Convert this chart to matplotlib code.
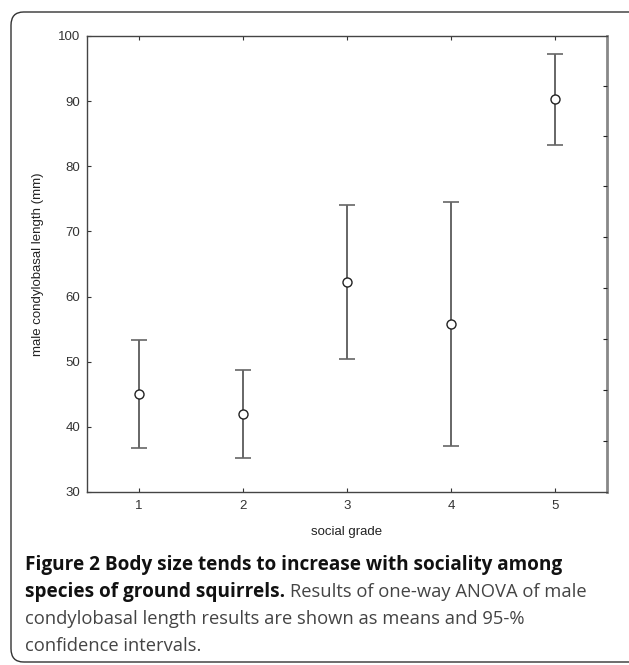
import numpy as np
import matplotlib
matplotlib.use("Agg")
import matplotlib.pyplot as plt
from matplotlib.patches import FancyBboxPatch

plt.rcParams['font.family'] = ['Liberation Sans', 'DejaVu Sans']

# data (means and 95% CI bounds)
grades = [1, 2, 3, 4, 5]
means = [45.0, 42.0, 62.2, 55.8, 90.3]
ci_low = [36.7, 35.2, 50.4, 37.1, 83.2]
ci_high = [53.4, 48.8, 74.0, 74.5, 97.3]
y_ticks = [30, 40, 50, 60, 70, 80, 90, 100]
right_ticks = [37.8, 45.7, 53.5, 61.3, 69.1, 76.9, 84.6, 92.4]

fig = plt.figure(figsize=(6.29, 6.65), dpi=100)
W, H = 629, 665

# rounded frame around figure + caption
frame = FancyBboxPatch((11 / W, 3 / H), 640 / W, 650 / H,
                       boxstyle="round,pad=0,rounding_size=0.02",
                       transform=fig.transFigure, fill=False,
                       edgecolor='#333333', linewidth=1.0)
fig.patches.append(frame)

ax = fig.add_axes([87 / W, 1 - 492 / H, 520 / W, 456 / H])

means = np.array(means)
yerr = [means - np.array(ci_low), np.array(ci_high) - means]
ax.errorbar(grades, means, yerr=yerr, fmt='none', ecolor='#666666',
            elinewidth=1.4, capsize=6, capthick=1.2, zorder=2)
ax.plot(grades, means, 'o', markersize=6.5, markerfacecolor='white',
        markeredgecolor='#222222', markeredgewidth=1.0, zorder=3)

ax.set_xlim(0.5, 5.5)
ax.set_ylim(30, 100)
ax.set_xticks(grades)
ax.set_yticks(y_ticks)
ax.tick_params(direction='in', length=3, width=0.8, labelsize=9.5,
               colors='#333333', top=True, right=False, pad=6)
ax.tick_params(axis='y', pad=5)
for s in ['left', 'bottom', 'top']:
    ax.spines[s].set_color('#444444')
    ax.spines[s].set_linewidth(1.0)
ax.spines['right'].set_color('#888888')
ax.spines['right'].set_linewidth(2.0)

ax2 = ax.twinx()
ax2.set_ylim(30, 100)
ax2.set_yticks(right_ticks)
ax2.set_yticklabels([])
ax2.tick_params(direction='in', length=3, width=0.8, colors='#222222')
for s in ax2.spines.values():
    s.set_visible(False)

ax.set_xlabel('social grade', fontsize=9.5, color='#222222', labelpad=10)
ax.set_ylabel('male condylobasal length (mm)', fontsize=9.5, color='#222222', labelpad=10)

# caption
cap_x = 25 / W
bold_font = dict(fontsize=13.7, fontweight='bold', family=['Open Sans', 'DejaVu Sans'],
                 color='#111111', va='center')
reg_font = dict(fontsize=13.2, family=['Open Sans', 'DejaVu Sans'],
                color='#444444', va='center')
fig.text(cap_x, 1 - 565 / H, 'Figure 2 Body size tends to increase with sociality among', **bold_font)
t = fig.text(cap_x, 1 - 592 / H, 'species of ground squirrels.', **bold_font)
fig.canvas.draw()
bb = t.get_window_extent()
fig.text(bb.x1 / W + 5 / W, 1 - 592 / H, 'Results of one-way ANOVA of male', **reg_font)
fig.text(cap_x, 1 - 619 / H, 'condylobasal length results are shown as means and 95-%', **reg_font)
fig.text(cap_x, 1 - 646 / H, 'confidence intervals.', **reg_font)

fig.savefig('out.png', dpi=100)
